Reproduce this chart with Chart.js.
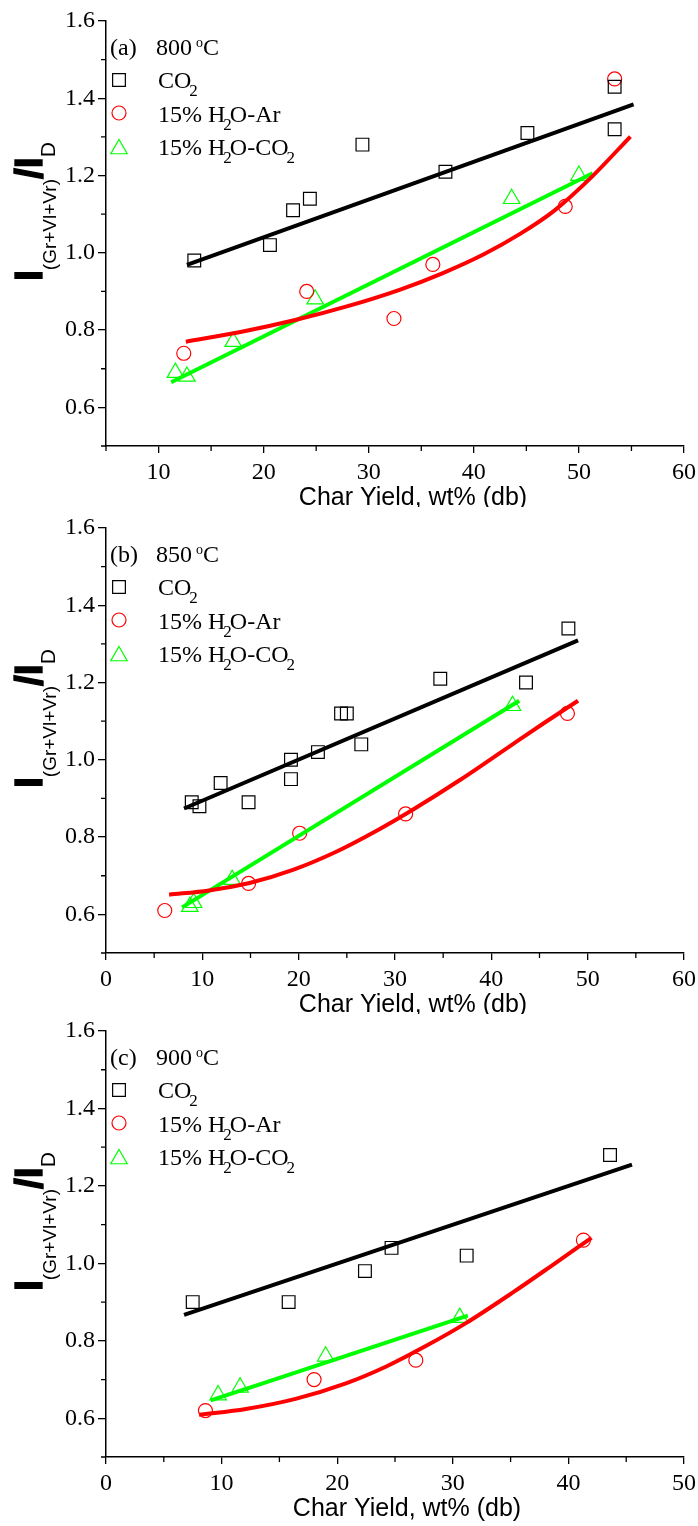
<!DOCTYPE html>
<html>
<head>
<meta charset="utf-8">
<script src="https://cdn.jsdelivr.net/npm/chart.js@4.4.1/dist/chart.umd.min.js"></script>
<style>
  body { margin: 0; background: #fff; overflow: hidden; }
  canvas.panel { position: absolute; left: 0; }
</style>
</head>
<body>
<canvas id="c800" class="panel" width="698" height="507" style="top:0"></canvas>
<canvas id="c850" class="panel" width="698" height="507" style="top:507px"></canvas>
<canvas id="c900" class="panel" width="698" height="516" style="top:1010px"></canvas>
<script>
/* Data: [char yield, I(Gr+Vl+Vr)/ID] */

// (a) 800 °C
const co2_800 = [[13.4, 0.98], [20.6, 1.02], [22.8, 1.11], [24.4, 1.14], [29.4, 1.28],
                 [37.3, 1.21], [45.1, 1.31], [53.4, 1.43], [53.4, 1.32]];
const ar_800 = [[12.4, 0.74], [24.1, 0.90], [32.4, 0.83], [36.1, 0.97], [48.7, 1.12], [53.4, 1.45]];
const mix_800 = [[11.6, 0.69], [12.7, 0.68], [17.1, 0.77], [24.9, 0.88], [43.6, 1.14], [50.0, 1.20]];
const co2Fit_800 = [[12.7, 0.969], [55.2, 1.384]];
const arFit_800 = [[12.6, 0.770], [17.8, 0.795], [23, 0.826], [28, 0.862], [33, 0.905], [37, 0.947],
                   [41, 0.997], [44.4, 1.049], [47.6, 1.108], [51.2, 1.196], [54.9, 1.301]];
const mixFit_800 = [[11.2, 0.665], [51.3, 1.206]];

// (b) 850 °C
const co2_850 = [[8.9, 0.89], [9.7, 0.88], [11.9, 0.94], [14.8, 0.89], [19.2, 0.95], [19.2, 1.00],
                 [22.0, 1.02], [24.4, 1.12], [25.0, 1.12], [26.5, 1.04], [34.7, 1.21], [43.6, 1.20],
                 [48.0, 1.34]];
const ar_850 = [[6.1, 0.61], [14.8, 0.68], [20.1, 0.81], [31.1, 0.86], [47.9, 1.12]];
const mix_850 = [[8.7, 0.62], [9.1, 0.63], [13.1, 0.69], [42.2, 1.14]];
const co2Fit_850 = [[8.1, 0.874], [49.0, 1.309]];
const arFit_850 = [[6.55, 0.651], [10.7, 0.662], [14.9, 0.681], [19.4, 0.715], [23.9, 0.762],
                   [28.0, 0.815], [31.8, 0.870], [36.7, 0.947], [41.9, 1.035], [45.4, 1.094],
                   [49.0, 1.153]];
const mixFit_850 = [[7.9, 0.618], [42.9, 1.153]];

// (c) 900 °C
const co2_900 = [[7.5, 0.90], [15.8, 0.90], [22.4, 0.98], [24.7, 1.04], [31.2, 1.02], [43.6, 1.28]];
const ar_900 = [[8.6, 0.62], [18.0, 0.70], [26.8, 0.75], [41.3, 1.06]];
const mix_900 = [[9.7, 0.66], [11.6, 0.68], [19.0, 0.76], [30.6, 0.86]];
const co2Fit_900 = [[6.75, 0.867], [45.5, 1.255]];
const arFit_900 = [[8.05, 0.609], [12.1, 0.624], [16.4, 0.650], [20.75, 0.690], [24.2, 0.733],
                   [27.7, 0.787], [31.1, 0.845], [35.2, 0.925], [38.6, 0.995], [42.0, 1.066]];
const mixFit_900 = [[9.06, 0.646], [31.3, 0.865]];

/* Ticks */
const yTicks = [0.6, 0.8, 1.0, 1.2, 1.4, 1.6];
const yMinor = [0.5, 0.7, 0.9, 1.1, 1.3, 1.5];
const xTicks800 = [10, 20, 30, 40, 50, 60];
const xTicks850 = [0, 10, 20, 30, 40, 50, 60];
const xTicks900 = [0, 10, 20, 30, 40, 50];
const xMinor60 = [5, 15, 25, 35, 45, 55];
const xMinor50 = [5, 15, 25, 35, 45];

const SERIF = 'Liberation Serif';
const SANS = 'Liberation Sans';
const BLACK = '#000000', RED = '#ff0000', GREEN = '#00ff00';

const xTitle = 'Char Yield, wt% (db)';
const yTitleParts = [
    { text: 'I', font: `bold 39px ${SANS}`, heavy: true },
    { text: '(Gr+Vl+Vr)', font: `19px ${SANS}`, dy: 14 },
    { text: '/', font: `bold 39px ${SANS}`, heavy: true },
    { text: 'I', font: `bold 39px ${SANS}`, heavy: true },
    { text: 'D', font: `21px ${SANS}`, dy: 13 }
];

const LEG = `24px ${SERIF}`;
const SUB = { font: `17px ${SERIF}`, dy: 8, dx: -2, after: -2 };
const legendRows = [
    { style: 'rect', color: BLACK, parts: [{ text: 'CO' }, { text: '2', ...SUB }] },
    { style: 'circle', color: RED, parts: [{ text: '15% H' }, { text: '2', ...SUB }, { text: 'O-Ar' }] },
    { style: 'triangle', color: GREEN, parts: [{ text: '15% H' }, { text: '2', ...SUB }, { text: 'O-CO' }, { text: '2', ...SUB }] }
];
const markerSize = { rect: 9, circle: 7, triangle: 9.5 };

function drawParts(ctx, x, y, parts) {
    parts.forEach(p => {
        x += p.dx || 0;
        ctx.font = p.font || LEG;
        ctx.fillText(p.text, x, y + (p.dy || 0));
        if (p.heavy) {
            ctx.lineWidth = 1.4;
            ctx.strokeText(p.text, x, y + (p.dy || 0));
        }
        x += ctx.measureText(p.text).width + (p.after || 0);
    });
    return x;
}

// same shapes Chart.js uses for its point styles
function drawMarker(ctx, style, x, y, r) {
    ctx.beginPath();
    if (style === 'rect') {
        const s = Math.SQRT1_2 * r;
        ctx.rect(x - s, y - s, 2 * s, 2 * s);
    } else if (style === 'circle') {
        ctx.arc(x, y, r, 0, Math.PI * 2);
    } else {
        ctx.moveTo(x, y - r);
        ctx.lineTo(x + 0.866 * r, y + 0.5 * r);
        ctx.lineTo(x - 0.866 * r, y + 0.5 * r);
        ctx.closePath();
    }
    ctx.stroke();
}

const decorations = {
    id: 'decorations',
    afterDraw(chart, args, opts) {
        const { ctx, chartArea: area } = chart;
        const xs = chart.scales.x, ys = chart.scales.y;
        ctx.save();

        // minor ticks
        ctx.strokeStyle = BLACK;
        ctx.lineWidth = 1.3;
        ctx.beginPath();
        yMinor.forEach(v => {
            const py = ys.getPixelForValue(v);
            ctx.moveTo(area.left - 5, py);
            ctx.lineTo(area.left, py);
        });
        opts.xMinor.forEach(v => {
            const px = xs.getPixelForValue(v);
            ctx.moveTo(px, area.bottom);
            ctx.lineTo(px, area.bottom + 5);
        });
        ctx.stroke();

        ctx.fillStyle = BLACK;
        ctx.textBaseline = 'alphabetic';

        // x title
        ctx.font = `25px ${SANS}`;
        ctx.textAlign = 'center';
        ctx.fillText(xTitle, opts.xTitleX, area.bottom + 59);
        ctx.textAlign = 'left';

        // y title, rotated
        ctx.save();
        ctx.translate(42, area.top + 260);
        ctx.rotate(-Math.PI / 2);
        drawParts(ctx, 0, 0, yTitleParts);
        ctx.restore();

        // legend block
        const lx = area.left;
        drawParts(ctx, lx + 4, area.top + 34, [{ text: opts.tag }]);
        drawParts(ctx, lx + 50, area.top + 34, [
            { text: opts.temp },
            { text: 'o', font: `14px ${SERIF}`, dy: -8, dx: 4 },
            { text: 'C' }
        ]);
        const markerY = [59, 92, 128];
        legendRows.forEach((row, i) => {
            ctx.strokeStyle = row.color;
            ctx.lineWidth = 1.2;
            drawMarker(ctx, row.style, lx + 13, area.top + markerY[i], markerSize[row.style]);
            ctx.fillStyle = BLACK;
            drawParts(ctx, lx + 52, area.top + 67 + i * 33.5, row.parts);
        });

        ctx.restore();
    }
};

const toXY = pairs => pairs.map(([x, y]) => ({ x, y }));

function fitLine(pairs, color) {
    return {
        data: toXY(pairs), showLine: true, borderColor: color, borderWidth: 4,
        pointRadius: 0, cubicInterpolationMode: 'monotone', fill: false
    };
}

function markers(pairs, style, color) {
    return {
        data: toXY(pairs), showLine: false, pointStyle: style,
        pointRadius: markerSize[style], pointBorderWidth: 1.2,
        pointBorderColor: color, pointBackgroundColor: 'rgba(0,0,0,0)'
    };
}

function makePanel(p) {
    const H = document.getElementById(p.id).height;
    return new Chart(p.id, {
        type: 'scatter',
        data: {
            datasets: [
                fitLine(p.co2Fit, BLACK),
                fitLine(p.arFit, RED),
                fitLine(p.mixFit, GREEN),
                markers(p.co2, 'rect', BLACK),
                markers(p.ar, 'circle', RED),
                markers(p.mix, 'triangle', GREEN)
            ]
        },
        plugins: [decorations],
        options: {
            responsive: false,
            animation: false,
            layout: { padding: { top: 21, right: 14, bottom: 0, left: 0 } },
            scales: {
                x: {
                    type: 'linear',
                    min: p.xMin,
                    max: p.xMax,
                    afterBuildTicks: s => { s.ticks = p.xTicks.map(v => ({ value: v })); },
                    afterFit: s => { s.height = H - p.bottom; s.paddingLeft = 0; s.paddingRight = 0; },
                    grid: { drawOnChartArea: false, drawTicks: true, tickLength: 7, color: BLACK, lineWidth: 1.3 },
                    border: { display: true, color: BLACK, width: 1.5 },
                    ticks: {
                        color: BLACK, padding: 5, maxRotation: 0,
                        font: { family: SERIF, size: 24 },
                        callback: v => String(v)
                    }
                },
                y: {
                    type: 'linear',
                    min: 0.5,
                    max: 1.6,
                    afterBuildTicks: s => { s.ticks = yTicks.map(v => ({ value: v })); },
                    afterFit: s => { s.width = 106; s.paddingTop = 0; s.paddingBottom = 0; },
                    grid: { drawOnChartArea: false, drawTicks: true, tickLength: 8, color: BLACK, lineWidth: 1.3 },
                    border: { display: true, color: BLACK, width: 1.5 },
                    ticks: {
                        color: BLACK, padding: 3,
                        font: { family: SERIF, size: 24 },
                        callback: v => v.toFixed(1)
                    }
                }
            },
            plugins: {
                legend: { display: false },
                tooltip: { enabled: false },
                decorations: { tag: p.tag, temp: p.temp, xMinor: p.xMinor, xTitleX: p.xTitleX }
            }
        }
    });
}

makePanel({ id: 'c800', tag: '(a)', temp: '800', xMin: 5, xMax: 60, xTicks: xTicks800, xMinor: xMinor60,
            bottom: 446, xTitleX: 413,
            co2: co2_800, ar: ar_800, mix: mix_800, co2Fit: co2Fit_800, arFit: arFit_800, mixFit: mixFit_800 });
makePanel({ id: 'c850', tag: '(b)', temp: '850', xMin: 0, xMax: 60, xTicks: xTicks850, xMinor: xMinor60,
            bottom: 446, xTitleX: 413,
            co2: co2_850, ar: ar_850, mix: mix_850, co2Fit: co2Fit_850, arFit: arFit_850, mixFit: mixFit_850 });
makePanel({ id: 'c900', tag: '(c)', temp: '900', xMin: 0, xMax: 50, xTicks: xTicks900, xMinor: xMinor50,
            bottom: 447, xTitleX: 407,
            co2: co2_900, ar: ar_900, mix: mix_900, co2Fit: co2Fit_900, arFit: arFit_900, mixFit: mixFit_900 });
</script>
</body>
</html>
